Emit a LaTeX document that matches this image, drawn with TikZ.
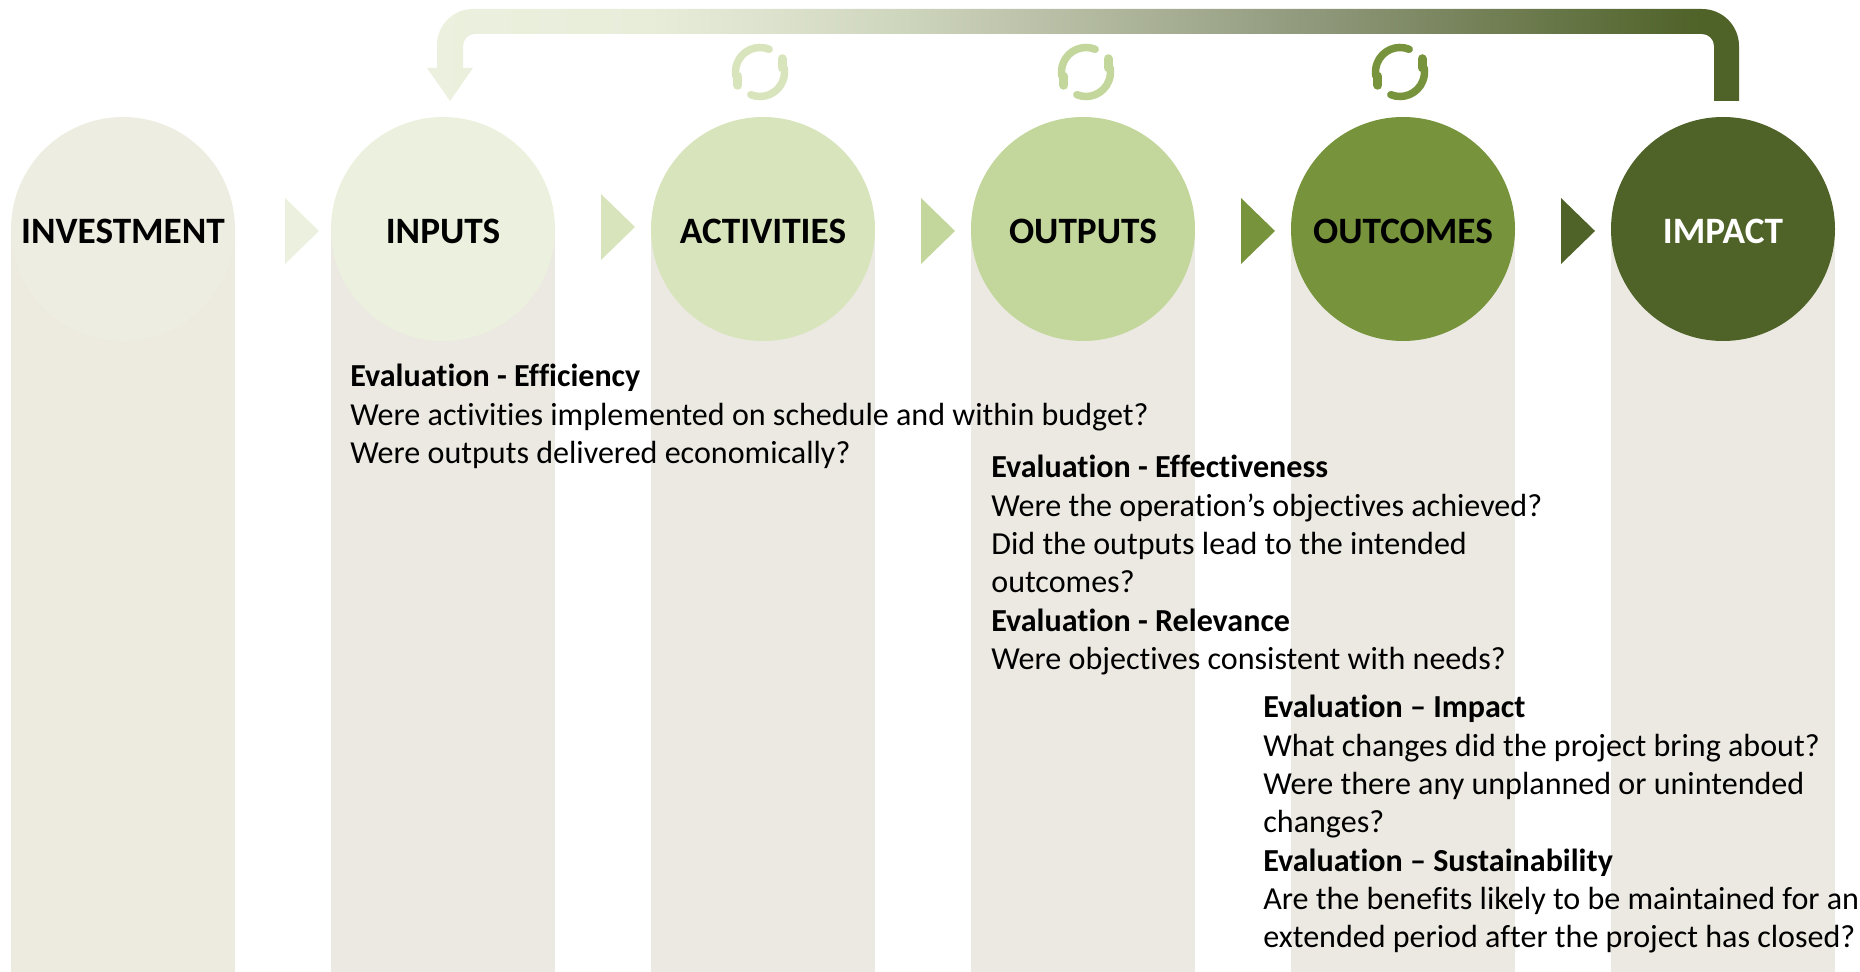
\documentclass[tikz,border=0pt]{standalone}
\usepackage{fontspec}
\setmainfont[Ligatures=NoCommon]{Carlito}
\usetikzlibrary{positioning}
\definecolor{colbg}{HTML}{EBE9E1}
\definecolor{colfirst}{HTML}{EDEBE0}
\definecolor{stageA}{HTML}{EEEDE2}
\definecolor{stageB}{HTML}{EBF1DE}
\definecolor{stageC}{HTML}{D8E4BC}
\definecolor{stageD}{HTML}{C3D69B}
\definecolor{stageE}{HTML}{77933C}
\definecolor{stageF}{HTML}{4F6228}
\definecolor{loopA}{HTML}{E8EDDA}
\definecolor{loopB}{HTML}{CFD6BE}
\definecolor{loopC}{HTML}{929A7E}
\pgfdeclarehorizontalshading{loopfade}{100bp}{color(0bp)=(stageB); color(25bp)=(stageB);
  color(33.5bp)=(loopA); color(43bp)=(loopB); color(58.3bp)=(loopC); color(73.5bp)=(stageF); color(100bp)=(stageF)}
\tikzset{
  stage/.style={circle,minimum size=224*0.02cm,inner sep=0pt,text height=16pt,text depth=0pt,font=\fontsize{21.2}{24}\selectfont\bfseries},
  evaltext/.style={anchor=north west,align=left,inner sep=0pt,font=\fontsize{18.25}{21.82}\selectfont},
  chevron/.pic={\fill[pic actions] (0,-33) -- (34,0) -- (0,33) -- cycle;},
  cycleicon/.pic={
    \draw[pic actions,line width=7.5*0.02cm,line cap=round] (-68:24.5) arc[start angle=-68,end angle=-190,radius=24.5];
    \draw[pic actions,line width=9*0.02cm,line cap=round] (-190:24.5) ++(2,0) -- ++(0,9);
    \draw[pic actions,line width=7.5*0.02cm,line cap=round] (-248:24.5) arc[start angle=-248,end angle=-370,radius=24.5];
    \draw[pic actions,line width=9*0.02cm,line cap=round] (-370:24.5) ++(-2,0) -- ++(0,-9);
  }
}
\begin{document}
\begin{tikzpicture}[x=0.02cm,y=-0.02cm]
  \useasboundingbox (0,0) rectangle (1860,972);
  % columns
  \foreach \x/\c in {123/colfirst,443/colbg,763/colbg,1083/colbg,1403/colbg,1723/colbg}
    \fill[\c] (\x-112,229) rectangle (\x+112,972);
  % stages
  \node[stage,fill=stageA] (investment) at (123,229) {INVESTMENT};
  \node[stage,fill=stageB] (inputs) at (443,229) {INPUTS};
  \node[stage,fill=stageC] (activities) at (763,229) {ACTIVITIES};
  \node[stage,fill=stageD] (outputs) at (1083,229) {OUTPUTS};
  \node[stage,fill=stageE] (outcomes) at (1403,229) {OUTCOMES};
  \node[stage,fill=stageF,text=white] (impact) at (1723,229) {IMPACT};
  % chevrons
  \pic[fill=stageB] at (285,231) {chevron};
  \pic[fill=stageC] at (601,227) {chevron};
  \pic[fill=stageD] at (921,231) {chevron};
  \pic[fill=stageE] at (1241,231) {chevron};
  \pic[fill=stageF] at (1561,231) {chevron};
  % feedback loop
  \shade[shading=loopfade]
    (1739,101) -- (1739,46) arc[start angle=0,end angle=-90,radius=37] -- (473,9)
    arc[start angle=-90,end angle=-180,radius=36] -- (437,68) -- (427,68) -- (450,101)
    -- (473,68) -- (463,68) -- (463,46) arc[start angle=180,end angle=270,radius=12]
    -- (1702,34) arc[start angle=270,end angle=360,radius=12] -- (1714,101) -- cycle;
  % cycle icons
  \pic[draw=stageC] at (760,72) {cycleicon};
  \pic[draw=stageD] at (1086,72) {cycleicon};
  \pic[draw=stageE] at (1400,72) {cycleicon};
  % evaluation texts
  \node[evaltext] (efficiency) at (350,364) {\textbf{Evaluation - Efficiency}\\
    Were activities implemented on schedule and within budget?\\
    Were outputs delivered economically?};
  \node[evaltext] (effectiveness) at (991,455) {\textbf{Evaluation - Effectiveness}\\
    Were the operation’s objectives achieved?\\
    Did the outputs lead to the intended\\
    outcomes?\\
    \textbf{Evaluation - Relevance}\\
    Were objectives consistent with needs?};
  \node[evaltext] (impacteval) at (1263,695) {\textbf{Evaluation – Impact}\\
    What changes did the project bring about?\\
    Were there any unplanned or unintended\\
    changes?\\
    \textbf{Evaluation – Sustainability}\\
    Are the benefits likely to be maintained for an\\
    extended period after the project has closed?};
\end{tikzpicture}
\end{document}
